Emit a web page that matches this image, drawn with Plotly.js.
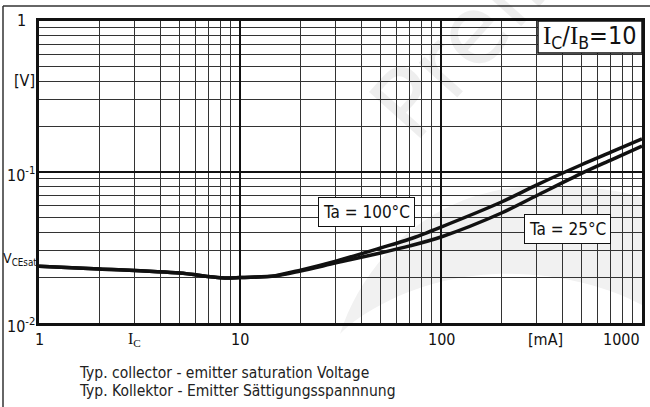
<!DOCTYPE html>
<html>
<head>
<meta charset="utf-8">
<script src="https://cdn.plot.ly/plotly-3.0.1.min.js"></script>
<style>html,body{margin:0;padding:0;background:#fff;}#chart{width:650px;height:407px;}</style>
</head>
<body>
<div id="chart"></div>
<script>
// ---- data ----
const currentMA = [1, 2, 5, 8, 10, 15, 20, 30, 50, 70, 100, 200, 300, 500, 700, 1000];
const vce100 = [0.0238, 0.0228, 0.0214, 0.0199, 0.0200, 0.0206, 0.0224, 0.0257, 0.0314, 0.0360, 0.0432, 0.0633, 0.0822, 0.1117, 0.1352, 0.1655];
const vce25  = [0.0238, 0.0228, 0.0214, 0.0199, 0.0200, 0.0205, 0.0221, 0.0250, 0.0291, 0.0324, 0.0371, 0.0535, 0.0699, 0.0979, 0.1200, 0.1486];
const seriesNames = ['Ta = 100°C', 'Ta = 25°C'];
const xTickVals = [1, 10, 100, 1000];
const xTickText = ['1', '10', '100', '1000'];
const yTickVals = [1, 0.1, 0.01];
const yTickText = ['1', '10<sup>-1</sup>', '10<sup>-2</sup>'];
const xAxisText = ['I<sub>C</sub>', '[mA]'];
const xAxisTextAt = [3, 330];
const yAxisText = ['[V]', 'V<sub>CEsat</sub>'];
const captionLines = ['Typ. collector - emitter saturation Voltage', 'Typ. Kollektor - Emitter Sättigungsspannnung'];
const ratioText = '<span style="font-family:Liberation Serif">I</span><sub>C</sub>/<span style="font-family:Liberation Serif">I</span><sub>B</sub>=10';
const watermarkText = 'Preliminary';

const FONT = 'DejaVu Sans Condensed, DejaVu Sans, sans-serif';
const W = 650, H = 407, ML = 39, MR = 8, MT = 21, MB = 84;
const PW = W - ML - MR, PH = H - MT - MB;
const px = x => (x - ML) / PW;          // pixel -> paper x
const py = y => (H - MB - y) / PH;      // pixel -> paper y
const pp = (x, y) => px(x).toFixed(4) + ',' + py(y).toFixed(4);

const traces = [
  {x: currentMA, y: vce100, name: seriesNames[0], mode: 'lines', line: {color: '#111', width: 3.5, shape: 'spline', smoothing: 0.8}},
  {x: currentMA, y: vce25, name: seriesNames[1], mode: 'lines', line: {color: '#111', width: 3.5, shape: 'spline', smoothing: 0.8}}
];

const ann = [];
// watermark text (very faint, drawn first)
ann.push({x: px(569), xref: 'paper', y: py(-76), yref: 'paper', text: watermarkText, showarrow: false,
  textangle: -48, xanchor: 'center', yanchor: 'middle', font: {family: 'DejaVu Sans, sans-serif', size: 95, color: 'rgba(0,0,0,0.065)'}});
// x tick labels
xTickVals.forEach((v, i) => {
  const last = i === xTickVals.length - 1;
  ann.push({x: Math.log10(v), xref: 'x', y: py(339), yref: 'paper', text: xTickText[i], showarrow: false,
    xanchor: last ? 'right' : 'center', yanchor: 'middle', font: {family: FONT, size: 16, color: '#111'}});
});
xAxisText.forEach((t, i) => {
  ann.push({x: Math.log10(xAxisTextAt[i]), xref: 'x', y: py(339), yref: 'paper', text: t, showarrow: false,
    xanchor: 'center', yanchor: 'middle', font: {family: i === 0 ? 'Liberation Serif, serif' : FONT, size: 16, color: '#111'}});
});
// y tick labels
const yLabelRight = [28, 37, 37];
const yLabelPix = [20, 174, 325];
yTickVals.forEach((v, i) => {
  ann.push({x: px(yLabelRight[i]), xref: 'paper', y: py(yLabelPix[i]), yref: 'paper', text: yTickText[i], showarrow: false,
    xanchor: 'right', yanchor: 'middle', font: {family: FONT, size: 16, color: '#111'}});
});
ann.push({x: px(37), xref: 'paper', y: py(80), yref: 'paper', text: yAxisText[0], showarrow: false,
  xanchor: 'right', yanchor: 'middle', font: {family: FONT, size: 16, color: '#111'}});
ann.push({x: px(39), xref: 'paper', y: py(259), yref: 'paper', text: yAxisText[1], showarrow: false,
  xanchor: 'right', yanchor: 'middle', font: {family: FONT, size: 14, color: '#111'}});
// curve labels
ann.push({x: px(366.5), xref: 'paper', y: py(212), yref: 'paper', text: seriesNames[0], showarrow: false,
  xanchor: 'center', yanchor: 'middle', bgcolor: '#fff', bordercolor: '#111', borderwidth: 1, borderpad: 4,
  font: {family: FONT, size: 17, color: '#111'}});
ann.push({x: px(567), xref: 'paper', y: py(229.5), yref: 'paper', text: seriesNames[1], showarrow: false,
  xanchor: 'center', yanchor: 'middle', bgcolor: '#fff', bordercolor: '#111', borderwidth: 1, borderpad: 4,
  font: {family: FONT, size: 17, color: '#111'}});
// ratio box text
ann.push({x: px(590), xref: 'paper', y: py(37), yref: 'paper', text: ratioText, showarrow: false,
  xanchor: 'center', yanchor: 'middle', font: {family: FONT, size: 25, color: '#111'}});
// caption
captionLines.forEach((t, i) => {
  ann.push({x: px(77), xref: 'paper', y: py(373 + i * 18), yref: 'paper', text: t, showarrow: false,
    xanchor: 'left', yanchor: 'middle', font: {family: FONT, size: 15.5, color: '#222'}});
});

const swoosh = 'M' + pp(340, 334) +
  ' C' + pp(360, 270) + ' ' + pp(420, 196) + ' ' + pp(520, 187) +
  ' C' + pp(580, 183) + ' ' + pp(630, 192) + ' ' + pp(642, 198) +
  ' L' + pp(642, 305) +
  ' C' + pp(600, 282) + ' ' + pp(520, 262) + ' ' + pp(440, 282) +
  ' C' + pp(390, 295) + ' ' + pp(355, 318) + ' ' + pp(340, 334) + ' Z';

const shapes = [
  {type: 'path', xref: 'paper', yref: 'paper', path: swoosh, fillcolor: '#f1f1f1', line: {width: 0}, layer: 'below'},
  {type: 'rect', xref: 'paper', yref: 'paper', x0: px(538), x1: 1, y0: py(53), y1: 1,
   fillcolor: '#fff', line: {color: '#111', width: 1.5}},
  {type: 'line', xref: 'paper', yref: 'paper', x0: px(3), x1: px(652), y0: py(6), y1: py(6), line: {color: '#333', width: 1.5}},
  {type: 'line', xref: 'paper', yref: 'paper', x0: px(3), x1: px(3), y0: py(6), y1: py(410), line: {color: '#333', width: 1.5}}
];

const axisCommon = {
  type: 'log', showline: true, mirror: true, linewidth: 3, linecolor: '#111',
  showgrid: true, gridcolor: '#111', gridwidth: 2.5, ticks: '', showticklabels: false,
  dtick: 1, zeroline: false,
  minor: {dtick: 'D1', showgrid: true, gridcolor: '#333', gridwidth: 1, ticks: ''}
};

const layout = {
  width: W, height: H,
  margin: {l: ML, r: MR, t: MT, b: MB, pad: 0},
  paper_bgcolor: '#fff', plot_bgcolor: '#fff',
  showlegend: false,
  xaxis: Object.assign({}, axisCommon, {range: [0, 3]}),
  yaxis: Object.assign({}, axisCommon, {range: [-2, 0]}),
  annotations: ann,
  shapes: shapes
};

Plotly.newPlot('chart', traces, layout, {staticPlot: true, displayModeBar: false});
</script>
</body>
</html>
